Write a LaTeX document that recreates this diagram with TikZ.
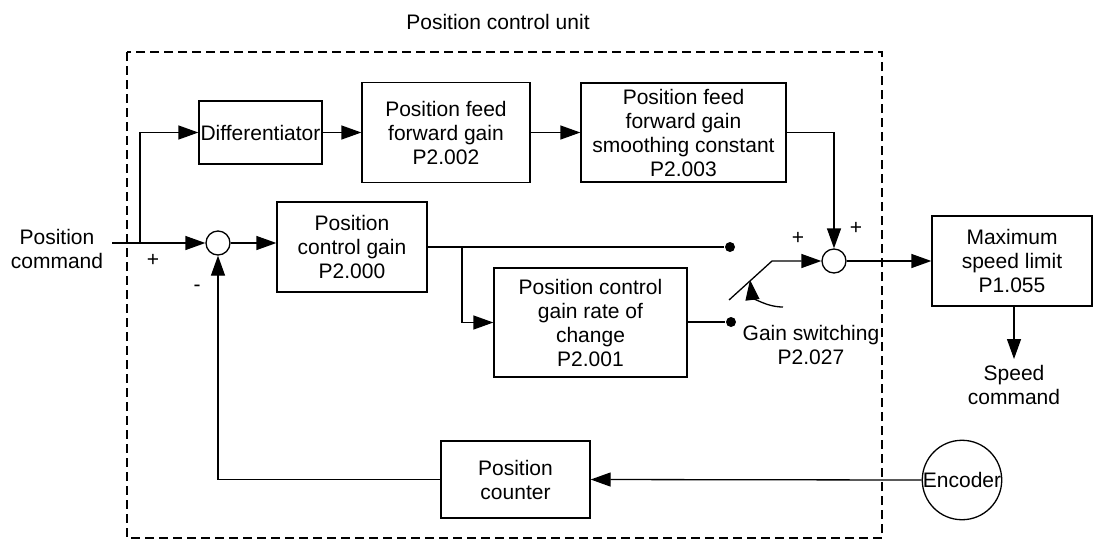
\documentclass[tikz,border=0pt]{standalone}
\usepackage{fontspec}
\setmainfont{Liberation Sans}
\usetikzlibrary{arrows.meta}
\begin{document}
\begin{tikzpicture}[x=1pt,y=-1pt,
  line width=1.3pt,
  >={Triangle[length=20pt,width=14pt]},
  txt/.style={font=\fontsize{21}{24}\selectfont, align=center, inner sep=0pt},
  blk/.style={draw, txt, line width=1.3pt},
  sumnode/.style={draw, circle, minimum size=24pt, inner sep=0pt, fill=white},
  dotnode/.style={circle, fill=black, minimum size=10pt, inner sep=0pt},
  dashbox/.style={dash pattern=on 9pt off 5pt, line width=1.2pt}]
\useasboundingbox (0,0) rectangle (1093,539);
% unit frame
\draw[dashbox] (127,52) rectangle (882,538);
\node[txt] (title) at (498,22) {Position control unit};
% blocks
\node[blk, minimum width=123pt, minimum height=63pt] (diff) at (260.5,132.5) {Differentiator};
\node[blk, minimum width=168pt, minimum height=100pt] (ff) at (446,132.5) {Position feed\\forward gain\\P2.002};
\node[blk, minimum width=205pt, minimum height=99pt] (smooth) at (683.5,132.5) {Position feed\\forward gain\\smoothing constant\\P2.003};
\node[blk, minimum width=150pt, minimum height=90pt] (pcg) at (352,247) {Position\\control gain\\P2.000};
\node[blk, minimum width=193pt, minimum height=109pt] (rate) at (590.5,322.5) {Position control\\gain rate of\\change\\P2.001};
\node[blk, minimum width=149pt, minimum height=77pt] (counter) at (515.5,479.5) {Position\\counter};
\node[blk, minimum width=160pt, minimum height=90pt] (maxs) at (1012,261) {Maximum\\speed limit\\P1.055};
\node[sumnode] (sum1) at (218,243) {};
\node[sumnode] (sum2) at (834,261) {};
\node[draw, circle, minimum size=76pt, inner sep=0pt, txt] (enc) at (962,480) {Encoder};
\node[dotnode] (dot1) at (730,247) {};
\node[dotnode] (dot2) at (731,322) {};
% texts
\node[txt] (pcmd) at (57,248.5) {Position\\command};
\node[txt, anchor=north] (spd) at (1014,365) {Speed\\command};
\node[txt] (gsw) at (811,345) {Gain switching\\P2.027};
\node[txt] (p1) at (153,260) {+};
\node[txt] (m1) at (197,288) {-};
\node[txt] (p2) at (798,238) {+};
\node[txt] (p3) at (856,228) {+};
% coordinates
\coordinate (in) at (112,243);
\coordinate (br1) at (140,243);
\coordinate (br2) at (462,247);
\coordinate (bl) at (729,300);
\coordinate (bt) at (772,261);
\coordinate (at1) at (783,307);
\coordinate (at2) at (750,280);
\coordinate (sc) at (1014,359);
% connectors
\draw[->] (in) -- (sum1.west);
\draw[->] (br1) |- (diff.west);
\draw[->] (diff.east) -- (ff.west);
\draw[->] (ff.east) -- (smooth.west);
\draw[->] (smooth.east) -| (sum2.north);
\draw[->] (sum1.east) -- (sum1.east -| pcg.west);
\draw (pcg.east |- dot1) -- (dot1);
\draw[->] (br2) |- (rate.west);
\draw (rate.east |- dot2) -- (dot2);
\draw[->] (bl) -- (bt) -- (sum2.west);
\draw[->] (at1) .. controls (765,307) and (752,296) .. (at2);
\draw[->] (sum2.east) -- (maxs.west);
\draw[->] (maxs.south -| sc) -- (sc);
\draw[->] (enc.west) -- (counter.east);
\draw[->] (counter.west) -| (sum1.south);
\end{tikzpicture}
\end{document}
